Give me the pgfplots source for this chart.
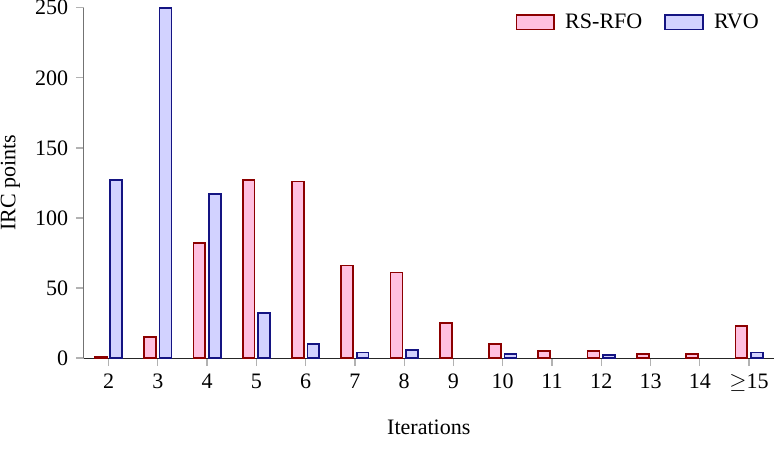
\documentclass[border={-3pt 3.2pt 0pt -3.2pt}]{standalone}
\usepackage{pgfplots}
\pgfplotsset{compat=1.18}
\usepackage{fontspec}
\setmainfont{Liberation Serif}
\definecolor{rsfill}{RGB}{255,192,224}
\definecolor{rsdraw}{RGB}{140,0,0}
\definecolor{rvfill}{RGB}{210,210,255}
\definecolor{rvdraw}{RGB}{20,20,130}
\pgfplotsset{
  boxlegend/.style={legend image code/.code={\draw[##1,line width=0.8pt] (0pt,-3.2pt) rectangle (17pt,3.2pt);}}
}
\begin{document}
\begin{tikzpicture}
\begin{axis}[
  scale only axis,
  width=313pt, height=159pt,
  ybar=1.6pt, bar width=5.4pt,
  xmin=-0.5, xmax=13.5,
  ymin=0, ymax=250,
  xtick={0,1,2,3,4,5,6,7,8,9,10,11,12,13},
  xticklabels={2,3,4,5,6,7,8,9,10,11,12,13,14,{$\geq$15}},
  ytick={0,50,100,150,200,250},
  axis lines=left,
  axis line style={-},
  x axis line style={black!85},
  y axis line style={black!55},
  tick align=outside,
  major tick length=3.6pt,
  tick style={black!30, line width=0.6pt},
  /pgf/number format/assume math mode=true,
  xlabel={Iterations},
  ylabel={IRC points},
  xlabel style={yshift=-6pt},
  ylabel style={yshift=0pt},
  legend columns=2,
  legend style={draw=none, fill=none, at={(0.995,1.01)}, anchor=north east,
    column sep=2.7pt, /tikz/every even column/.append style={column sep=8pt},
    font=\normalsize},
  legend cell align=left,
]
\addplot[boxlegend, draw=rsdraw, fill=rsfill, line width=0.8pt] coordinates {
 (0,1) (1,15) (2,82) (3,127) (4,126) (5,66) (6,61) (7,25) (8,10) (9,5) (10,5) (11,3) (12,3) (13,23)};
\addplot[boxlegend, draw=rvdraw, fill=rvfill, line width=0.8pt] coordinates {
 (0,127) (1,250) (2,117) (3,32) (4,10) (5,4) (6,6) (8,3) (10,2) (13,4)};
\legend{RS-RFO,RVO}
\end{axis}
\end{tikzpicture}
\end{document}
